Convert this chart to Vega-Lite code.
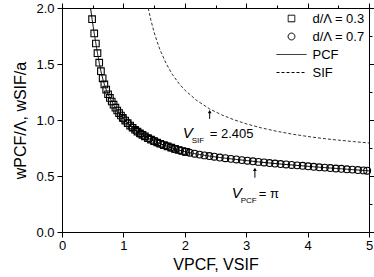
{
  "$schema": "https://vega.github.io/schema/vega-lite/v6.json",
  "width": 307,
  "height": 224,
  "autosize": {"type": "none"},
  "padding": {"left": 62, "top": 8, "right": 5, "bottom": 45},
  "background": "white",
  "config": {
    "view": {"stroke": null},
    "font": "Liberation Sans",
    "axis": {
      "labelFont": "Liberation Sans", "labelFontSize": 13, "labelColor": "black",
      "domainColor": "black", "domainWidth": 1, "tickColor": "black", "tickWidth": 1,
      "grid": false, "titleColor": "black", "titleFont": "Liberation Sans", "titleFontWeight": "normal",
      "labelFlush": false, "labelOverlap": false
    },
    "legend": {
      "orient": "top-right", "offset": 4, "padding": 0, "rowPadding": 4,
      "labelFont": "Liberation Sans", "labelFontSize": 13, "labelColor": "black", "labelOffset": 14.5,
      "symbolSize": 144, "symbolStrokeWidth": 1, "symbolStrokeColor": "black", "symbolFillColor": "transparent"
    }
  },
  "datasets": {
    "pcf": [
      {"V": 0.465, "w": 2.0, "series": "PCF"}, {"V": 0.49, "w": 1.9, "series": "PCF"}, {"V": 0.52, "w": 1.79, "series": "PCF"}, {"V": 0.55, "w": 1.69, "series": "PCF"},
      {"V": 0.58, "w": 1.59, "series": "PCF"}, {"V": 0.61, "w": 1.5, "series": "PCF"}, {"V": 0.64, "w": 1.42, "series": "PCF"}, {"V": 0.67, "w": 1.355, "series": "PCF"},
      {"V": 0.7, "w": 1.3, "series": "PCF"}, {"V": 0.75, "w": 1.23, "series": "PCF"}, {"V": 0.8, "w": 1.175, "series": "PCF"}, {"V": 0.85, "w": 1.127, "series": "PCF"},
      {"V": 0.9, "w": 1.085, "series": "PCF"}, {"V": 0.95, "w": 1.047, "series": "PCF"}, {"V": 1.0, "w": 1.012, "series": "PCF"}, {"V": 1.1, "w": 0.955, "series": "PCF"},
      {"V": 1.2, "w": 0.908, "series": "PCF"}, {"V": 1.3, "w": 0.87, "series": "PCF"}, {"V": 1.4, "w": 0.838, "series": "PCF"}, {"V": 1.5, "w": 0.811, "series": "PCF"},
      {"V": 1.6, "w": 0.788, "series": "PCF"}, {"V": 1.7, "w": 0.768, "series": "PCF"}, {"V": 1.8, "w": 0.749, "series": "PCF"}, {"V": 1.9, "w": 0.732, "series": "PCF"},
      {"V": 2.0, "w": 0.717, "series": "PCF"}, {"V": 2.2, "w": 0.695, "series": "PCF"}, {"V": 2.4, "w": 0.678, "series": "PCF"}, {"V": 2.6, "w": 0.663, "series": "PCF"},
      {"V": 2.8, "w": 0.65, "series": "PCF"}, {"V": 3.0, "w": 0.638, "series": "PCF"}, {"V": 3.2, "w": 0.626, "series": "PCF"}, {"V": 3.4, "w": 0.615, "series": "PCF"},
      {"V": 3.6, "w": 0.605, "series": "PCF"}, {"V": 3.8, "w": 0.596, "series": "PCF"}, {"V": 4.0, "w": 0.587, "series": "PCF"}, {"V": 4.2, "w": 0.578, "series": "PCF"},
      {"V": 4.4, "w": 0.57, "series": "PCF"}, {"V": 4.6, "w": 0.562, "series": "PCF"}, {"V": 4.8, "w": 0.554, "series": "PCF"}, {"V": 5.0, "w": 0.546, "series": "PCF"}
    ],
    "sif": [
      {"V": 1.404, "w": 1.999, "series": "SIF"}, {"V": 1.45, "w": 1.887, "series": "SIF"}, {"V": 1.5, "w": 1.784, "series": "SIF"}, {"V": 1.55, "w": 1.697, "series": "SIF"},
      {"V": 1.6, "w": 1.622, "series": "SIF"}, {"V": 1.7, "w": 1.5, "series": "SIF"}, {"V": 1.8, "w": 1.405, "series": "SIF"}, {"V": 1.9, "w": 1.329, "series": "SIF"},
      {"V": 2.0, "w": 1.267, "series": "SIF"}, {"V": 2.2, "w": 1.172, "series": "SIF"}, {"V": 2.405, "w": 1.099, "series": "SIF"}, {"V": 2.6, "w": 1.046, "series": "SIF"},
      {"V": 2.8, "w": 1.002, "series": "SIF"}, {"V": 3.0, "w": 0.966, "series": "SIF"}, {"V": 3.25, "w": 0.929, "series": "SIF"}, {"V": 3.5, "w": 0.899, "series": "SIF"},
      {"V": 3.75, "w": 0.874, "series": "SIF"}, {"V": 4.0, "w": 0.853, "series": "SIF"}, {"V": 4.25, "w": 0.835, "series": "SIF"}, {"V": 4.5, "w": 0.82, "series": "SIF"},
      {"V": 4.75, "w": 0.807, "series": "SIF"}, {"V": 5.0, "w": 0.795, "series": "SIF"}
    ],
    "pts": [
      {"V": 0.49, "w": 1.9, "series": "d/Λ = 0.3"}, {"V": 0.525, "w": 1.773, "series": "d/Λ = 0.3"},
      {"V": 0.552, "w": 1.683, "series": "d/Λ = 0.3"}, {"V": 0.578, "w": 1.597, "series": "d/Λ = 0.3"},
      {"V": 0.606, "w": 1.512, "series": "d/Λ = 0.3"}, {"V": 0.634, "w": 1.436, "series": "d/Λ = 0.3"},
      {"V": 0.662, "w": 1.372, "series": "d/Λ = 0.3"}, {"V": 0.69, "w": 1.318, "series": "d/Λ = 0.3"},
      {"V": 0.72, "w": 1.272, "series": "d/Λ = 0.3"}, {"V": 0.75, "w": 1.23, "series": "d/Λ = 0.3"},
      {"V": 0.78, "w": 1.197, "series": "d/Λ = 0.3"}, {"V": 0.81, "w": 1.165, "series": "d/Λ = 0.3"},
      {"V": 0.84, "w": 1.137, "series": "d/Λ = 0.3"}, {"V": 0.87, "w": 1.11, "series": "d/Λ = 0.3"},
      {"V": 0.9, "w": 1.085, "series": "d/Λ = 0.3"}, {"V": 0.93, "w": 1.062, "series": "d/Λ = 0.3"},
      {"V": 0.96, "w": 1.04, "series": "d/Λ = 0.3"}, {"V": 0.99, "w": 1.019, "series": "d/Λ = 0.3"},
      {"V": 1.03, "w": 0.995, "series": "d/Λ = 0.3"}, {"V": 1.07, "w": 0.972, "series": "d/Λ = 0.3"},
      {"V": 1.11, "w": 0.95, "series": "d/Λ = 0.3"}, {"V": 1.15, "w": 0.931, "series": "d/Λ = 0.3"},
      {"V": 1.19, "w": 0.913, "series": "d/Λ = 0.3"}, {"V": 1.23, "w": 0.896, "series": "d/Λ = 0.3"},
      {"V": 1.27, "w": 0.881, "series": "d/Λ = 0.3"}, {"V": 1.31, "w": 0.867, "series": "d/Λ = 0.3"},
      {"V": 1.35, "w": 0.854, "series": "d/Λ = 0.3"}, {"V": 1.4, "w": 0.838, "series": "d/Λ = 0.3"},
      {"V": 1.45, "w": 0.824, "series": "d/Λ = 0.3"}, {"V": 1.5, "w": 0.811, "series": "d/Λ = 0.3"},
      {"V": 1.55, "w": 0.799, "series": "d/Λ = 0.3"}, {"V": 1.6, "w": 0.788, "series": "d/Λ = 0.3"},
      {"V": 1.66, "w": 0.776, "series": "d/Λ = 0.3"}, {"V": 1.72, "w": 0.764, "series": "d/Λ = 0.3"},
      {"V": 1.78, "w": 0.753, "series": "d/Λ = 0.3"}, {"V": 1.84, "w": 0.742, "series": "d/Λ = 0.3"},
      {"V": 1.9, "w": 0.732, "series": "d/Λ = 0.3"}, {"V": 1.96, "w": 0.723, "series": "d/Λ = 0.3"},
      {"V": 2.02, "w": 0.715, "series": "d/Λ = 0.3"},
      {"V": 1.0, "w": 1.012, "series": "d/Λ = 0.7"}, {"V": 1.07, "w": 0.972, "series": "d/Λ = 0.7"},
      {"V": 1.14, "w": 0.936, "series": "d/Λ = 0.7"}, {"V": 1.21, "w": 0.904, "series": "d/Λ = 0.7"},
      {"V": 1.28, "w": 0.877, "series": "d/Λ = 0.7"}, {"V": 1.35, "w": 0.854, "series": "d/Λ = 0.7"},
      {"V": 1.42, "w": 0.832, "series": "d/Λ = 0.7"}, {"V": 1.49, "w": 0.814, "series": "d/Λ = 0.7"},
      {"V": 1.56, "w": 0.797, "series": "d/Λ = 0.7"}, {"V": 1.63, "w": 0.782, "series": "d/Λ = 0.7"},
      {"V": 1.7, "w": 0.768, "series": "d/Λ = 0.7"}, {"V": 1.77, "w": 0.755, "series": "d/Λ = 0.7"},
      {"V": 1.84, "w": 0.742, "series": "d/Λ = 0.7"}, {"V": 1.92, "w": 0.729, "series": "d/Λ = 0.7"},
      {"V": 2.0, "w": 0.717, "series": "d/Λ = 0.7"}, {"V": 2.08, "w": 0.707, "series": "d/Λ = 0.7"},
      {"V": 2.16, "w": 0.699, "series": "d/Λ = 0.7"}, {"V": 2.24, "w": 0.691, "series": "d/Λ = 0.7"},
      {"V": 2.32, "w": 0.684, "series": "d/Λ = 0.7"}, {"V": 2.4, "w": 0.678, "series": "d/Λ = 0.7"},
      {"V": 2.48, "w": 0.672, "series": "d/Λ = 0.7"}, {"V": 2.57, "w": 0.665, "series": "d/Λ = 0.7"},
      {"V": 2.66, "w": 0.659, "series": "d/Λ = 0.7"}, {"V": 2.75, "w": 0.653, "series": "d/Λ = 0.7"},
      {"V": 2.84, "w": 0.648, "series": "d/Λ = 0.7"}, {"V": 2.93, "w": 0.642, "series": "d/Λ = 0.7"},
      {"V": 3.02, "w": 0.637, "series": "d/Λ = 0.7"}, {"V": 3.11, "w": 0.631, "series": "d/Λ = 0.7"},
      {"V": 3.2, "w": 0.626, "series": "d/Λ = 0.7"}, {"V": 3.29, "w": 0.621, "series": "d/Λ = 0.7"},
      {"V": 3.38, "w": 0.616, "series": "d/Λ = 0.7"}, {"V": 3.47, "w": 0.611, "series": "d/Λ = 0.7"},
      {"V": 3.56, "w": 0.607, "series": "d/Λ = 0.7"}, {"V": 3.65, "w": 0.603, "series": "d/Λ = 0.7"},
      {"V": 3.74, "w": 0.599, "series": "d/Λ = 0.7"}, {"V": 3.83, "w": 0.595, "series": "d/Λ = 0.7"},
      {"V": 3.92, "w": 0.591, "series": "d/Λ = 0.7"}, {"V": 4.01, "w": 0.587, "series": "d/Λ = 0.7"},
      {"V": 4.1, "w": 0.582, "series": "d/Λ = 0.7"}, {"V": 4.19, "w": 0.578, "series": "d/Λ = 0.7"},
      {"V": 4.28, "w": 0.575, "series": "d/Λ = 0.7"}, {"V": 4.37, "w": 0.571, "series": "d/Λ = 0.7"},
      {"V": 4.46, "w": 0.567, "series": "d/Λ = 0.7"}, {"V": 4.55, "w": 0.564, "series": "d/Λ = 0.7"},
      {"V": 4.64, "w": 0.56, "series": "d/Λ = 0.7"}, {"V": 4.73, "w": 0.557, "series": "d/Λ = 0.7"},
      {"V": 4.82, "w": 0.553, "series": "d/Λ = 0.7"}, {"V": 4.91, "w": 0.55, "series": "d/Λ = 0.7"},
      {"V": 4.97, "w": 0.547, "series": "d/Λ = 0.7"}
    ],
    "ann": [
      {"V": 1.967, "w": 0.839, "main": "V", "sub": "SIF", "rest": "= 2.405"},
      {"V": 2.764, "w": 0.304, "main": "V", "sub": "PCF", "rest": "= π"}
    ],
    "arrows": [
      {"V": 2.405, "w1": 1.01, "w2": 1.075},
      {"V": 3.1416, "w1": 0.485, "w2": 0.56}
    ]
  },
  "layer": [
    {
      "layer": [
        {
          "data": {"name": "pcf"},
          "mark": {"type": "line", "color": "black", "strokeWidth": 1},
          "encoding": {
            "x": {"field": "V", "type": "quantitative", "scale": {"domain": [0, 5], "nice": false},
              "axis": {
                "values": [0, 0.5, 1, 1.5, 2, 2.5, 3, 3.5, 4, 4.5, 5],
                "labelExpr": "datum.value % 1 === 0 ? format(datum.value, 'd') : ''",
                "tickSize": {"condition": {"test": "datum.value % 1 === 0", "value": 5}, "value": 3},
                "labelPadding": 2, "title": "VPCF, VSIF", "titleFontSize": 16, "titlePadding": 4
              }},
            "y": {"field": "w", "type": "quantitative", "scale": {"domain": [0, 2], "nice": false},
              "axis": {
                "values": [0, 0.25, 0.5, 0.75, 1, 1.25, 1.5, 1.75, 2],
                "labelExpr": "round(datum.value * 100) % 50 === 0 ? format(datum.value, '.1f') : ''",
                "tickSize": {"condition": {"test": "round(datum.value * 100) % 50 === 0", "value": 5}, "value": 3},
                "labelPadding": 3, "title": "wPCF/Λ, wSIF/a", "titleFontSize": 16, "titlePadding": 7
              }},
            "strokeDash": {"field": "series", "type": "nominal",
              "scale": {"domain": ["d/Λ = 0.3", "d/Λ = 0.7", "PCF", "SIF"], "range": [[1, 0], [1, 0], [1, 0], [3, 2]]},
              "legend": {"title": null}}
          }
        },
        {
          "data": {"name": "pts"},
          "mark": {"type": "point", "filled": false, "color": "black", "size": 144, "strokeWidth": 1.1, "opacity": 1},
          "encoding": {
            "x": {"field": "V", "type": "quantitative"},
            "y": {"field": "w", "type": "quantitative"},
            "shape": {"field": "series", "type": "nominal",
              "scale": {"domain": ["d/Λ = 0.3", "d/Λ = 0.7", "PCF", "SIF"],
                "range": ["M-0.55,-0.55H0.55V0.55H-0.55Z", "M0.57,0A0.57,0.57,0,1,1,-0.57,0A0.57,0.57,0,1,1,0.57,0Z", "M-2.5,0H2.5", "M-2.5,0H2.5"]},
              "legend": {"title": null}}
          }
        },
        {
          "data": {"name": "arrows"},
          "mark": {"type": "rule", "color": "black", "strokeWidth": 1},
          "encoding": {
            "x": {"field": "V", "type": "quantitative"},
            "y": {"field": "w1", "type": "quantitative"},
            "y2": {"field": "w2"}
          }
        },
        {
          "data": {"name": "arrows"},
          "mark": {"type": "point", "shape": "triangle-up", "filled": true, "color": "black", "size": 14, "opacity": 1},
          "encoding": {
            "x": {"field": "V", "type": "quantitative"},
            "y": {"field": "w2", "type": "quantitative"}
          }
        },
        {
          "data": {"name": "ann"},
          "mark": {"type": "text", "align": "left", "baseline": "alphabetic", "font": "Liberation Sans", "fontStyle": "italic", "fontSize": 15, "color": "black"},
          "encoding": {
            "x": {"field": "V", "type": "quantitative"},
            "y": {"field": "w", "type": "quantitative"},
            "text": {"field": "main"}
          }
        },
        {
          "data": {"name": "ann"},
          "mark": {"type": "text", "align": "left", "baseline": "alphabetic", "font": "Liberation Sans", "fontSize": 8, "dx": 9, "dy": 5, "color": "black"},
          "encoding": {
            "x": {"field": "V", "type": "quantitative"},
            "y": {"field": "w", "type": "quantitative"},
            "text": {"field": "sub"}
          }
        },
        {
          "data": {"name": "ann"},
          "mark": {"type": "text", "align": "left", "baseline": "alphabetic", "font": "Liberation Sans", "fontSize": 13, "dx": 27, "color": "black"},
          "encoding": {
            "x": {"field": "V", "type": "quantitative"},
            "y": {"field": "w", "type": "quantitative"},
            "text": {"field": "rest"}
          }
        }
      ]
    },
    {
      "data": {"name": "sif"},
      "mark": {"type": "line", "color": "#333333", "strokeWidth": 1},
      "encoding": {
        "x": {"field": "V", "type": "quantitative", "scale": {"domain": [0, 5], "nice": false},
          "axis": {"orient": "top", "labels": false, "title": null,
            "values": [0, 0.5, 1, 1.5, 2, 2.5, 3, 3.5, 4, 4.5, 5],
            "tickSize": {"condition": {"test": "datum.value % 1 === 0", "value": 5}, "value": 3}}},
        "y": {"field": "w", "type": "quantitative", "scale": {"domain": [0, 2], "nice": false},
          "axis": {"orient": "right", "labels": false, "title": null,
            "values": [0, 0.25, 0.5, 0.75, 1, 1.25, 1.5, 1.75, 2],
            "tickSize": {"condition": {"test": "round(datum.value * 100) % 50 === 0", "value": 5}, "value": 3}}},
        "strokeDash": {"field": "series", "type": "nominal",
          "scale": {"domain": ["d/Λ = 0.3", "d/Λ = 0.7", "PCF", "SIF"], "range": [[1, 0], [1, 0], [1, 0], [3, 2]]},
          "legend": {"title": null}}
      }
    }
  ],
  "resolve": {"axis": {"x": "independent", "y": "independent"}}
}
